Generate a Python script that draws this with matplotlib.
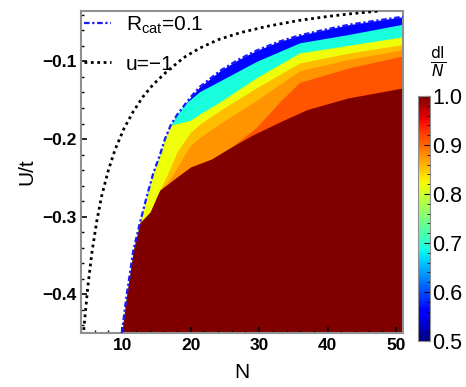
import numpy as np
import matplotlib
matplotlib.use("Agg")
import matplotlib.pyplot as plt
from matplotlib.ticker import MultipleLocator
from matplotlib.lines import Line2D

plt.rcParams['font.family'] = ['Liberation Sans', 'DejaVu Sans']

# --- boundary curves (N, U/t) ---
# R_cat = 0.1 (edge of coloured region)
rcat_N = [9.95, 10.7, 11.65, 12.6, 13.6, 14.55, 15.5, 16.25, 17.1, 18.0, 19.9, 21.3, 24.3,
          27.0, 29.6, 32.7, 35.9, 39.5, 43.2, 47.0, 50.4, 51.0]
rcat_U = [-0.450, -0.399, -0.343, -0.308, -0.274, -0.244, -0.221, -0.200, -0.182, -0.169,
          -0.147, -0.133, -0.112, -0.0975, -0.086, -0.075, -0.0663, -0.0592, -0.0525,
          -0.0475, -0.0431, -0.0425]

# u = -1 line
u_N = [4.4, 5.0, 5.6, 6.3, 7.0, 8.0, 9.0, 10.3, 11.6, 13.0, 14.5, 16.4, 19.0, 21.3, 24.0,
       27.2, 31.0, 35.9, 40.0, 43.2, 47.5]
u_U = [-0.446, -0.390, -0.346, -0.306, -0.274, -0.240, -0.213, -0.186, -0.165, -0.146,
       -0.130, -0.114, -0.095, -0.083, -0.072, -0.063, -0.055, -0.047, -0.042, -0.0387, -0.035]

# lower edge of each colour band
blue_N = [19.0, 21.3, 24.3, 29.6, 35.9, 43.2, 50.4, 51.0]
blue_U = [-0.156, -0.139, -0.125, -0.100, -0.076, -0.065, -0.053, -0.052]
cyan_N = [17.1, 18.0, 19.9, 21.3, 24.3, 29.6, 35.9, 43.2, 50.4, 51.0]
cyan_U = [-0.182, -0.180, -0.176, -0.168, -0.152, -0.121, -0.089, -0.079, -0.069, -0.068]
yellow_N = [15.5, 17.0, 18.0, 19.9, 21.3, 24.3, 29.6, 35.9, 43.2, 50.4, 51.0]
yellow_U = [-0.266, -0.238, -0.217, -0.192, -0.181, -0.163, -0.134, -0.102, -0.089, -0.079, -0.078]
gold_N = [15.5, 17.0, 19.9, 21.3, 24.3, 29.6, 35.9, 43.2, 50.4, 51.0]
gold_U = [-0.266, -0.252, -0.209, -0.198, -0.180, -0.150, -0.112, -0.097, -0.086, -0.085]
orange_N = [26.0, 29.6, 33.0, 35.9, 43.2, 50.4, 51.0]
orange_U = [-0.210, -0.185, -0.152, -0.127, -0.108, -0.094, -0.093]
redor_N = [12.6, 14.1, 15.5, 18.0, 20.0, 23.0, 26.0, 29.0, 33.0, 37.0, 43.0, 48.0, 51.0]
redor_U = [-0.308, -0.294, -0.266, -0.249, -0.236, -0.226, -0.210, -0.195, -0.178, -0.162,
           -0.147, -0.139, -0.134]

# band colour values (dl/N), from the edge inwards
band_vals = [0.565, 0.69, 0.82, 0.855, 0.875, 0.91, 1.0]

cmap = plt.get_cmap('jet')
norm = matplotlib.colors.Normalize(0.5, 1.0)

fig = plt.figure(figsize=(4.66, 3.87), dpi=100)
ax = fig.add_axes([0.1738, 0.1395, 0.691, 0.832])
cax = fig.add_axes([0.897, 0.119, 0.0258, 0.633])

ymin = -0.45


def under(N, U, left_N=None, left_U=None):
    # join on the part of the upper boundary where the band has zero width
    if left_N is None:
        return np.array(N), np.array(U)
    ln = [n for n in left_N if n < N[0]]
    lu = [u for n, u in zip(left_N, left_U) if n < N[0]]
    return np.array(ln + list(N)), np.array(lu + list(U))


layers = [
    (rcat_N, rcat_U, None, None),
    (blue_N, blue_U, rcat_N, rcat_U),
    (cyan_N, cyan_U, rcat_N, rcat_U),
    (yellow_N, yellow_U, redor_N, redor_U),
    (gold_N, gold_U, redor_N, redor_U),
    (orange_N, orange_U, redor_N, redor_U),
    (redor_N, redor_U, rcat_N, rcat_U),
]
for (N, U, lN, lU), v in zip(layers, band_vals):
    xs, ys = under(N, U, lN, lU)
    ax.fill_between(xs, ys, ymin - 0.01, color=cmap(norm(v)), lw=0, zorder=1)

ax.plot(rcat_N, rcat_U, color='#1a1aff', lw=1.6, ls=(0, (2.5, 1.2, 1, 1.2)), zorder=3)
ax.plot(u_N, u_U, color='black', lw=2.0, ls=(0, (1, 1.3)), zorder=3)

ax.set_xlim(4, 51)
ax.set_ylim(ymin, -0.035)
ax.xaxis.set_major_locator(MultipleLocator(10))
ax.xaxis.set_minor_locator(MultipleLocator(2))
ax.yaxis.set_major_locator(MultipleLocator(0.1))
ax.yaxis.set_minor_locator(MultipleLocator(0.02))
ax.tick_params(which='both', direction='in', top=False, right=False, labelsize=12.5, color='black')
ax.tick_params(which='major', length=4, width=1.2)
ax.tick_params(which='minor', length=2.5, width=1.0)
for lab in ax.get_xticklabels() + ax.get_yticklabels():
    lab.set_fontweight('bold')
for sp in ax.spines.values():
    sp.set_color('#909090')
    sp.set_linewidth(1.5)

ax.set_xlabel('N', fontsize=15, labelpad=7)
ax.set_ylabel('U/t', fontsize=15, labelpad=4)

handles = [
    Line2D([], [], color='#1a1aff', lw=1.6, ls=(0, (2.5, 1.2, 1, 1.2))),
    Line2D([], [], color='black', lw=2.0, ls=(0, (1, 1.3))),
]
ax.legend(handles, [r'R$_{\mathregular{cat}}$=0.1', 'u=\u22121'], loc='upper left',
          frameon=False, fontsize=15, handlelength=1.3, handletextpad=0.7,
          labelspacing=0.9, borderaxespad=0.15, borderpad=0.0)

sm = matplotlib.cm.ScalarMappable(norm=norm, cmap=cmap)
cb = fig.colorbar(sm, cax=cax)
cb.set_ticks([0.5, 0.6, 0.7, 0.8, 0.9, 1.0])
cb.ax.yaxis.set_minor_locator(MultipleLocator(0.02))
cb.ax.tick_params(which='both', direction='in', labelsize=15.5, pad=1.5)
cb.ax.tick_params(which='major', length=4)
cb.ax.tick_params(which='minor', length=2.5)
cb.outline.set_edgecolor('#909090')
fig.text(0.94, 0.84, r'$\frac{\mathrm{dl}}{N}$', fontsize=16, ha='center', va='center')

fig.savefig('out.png', dpi=100)
